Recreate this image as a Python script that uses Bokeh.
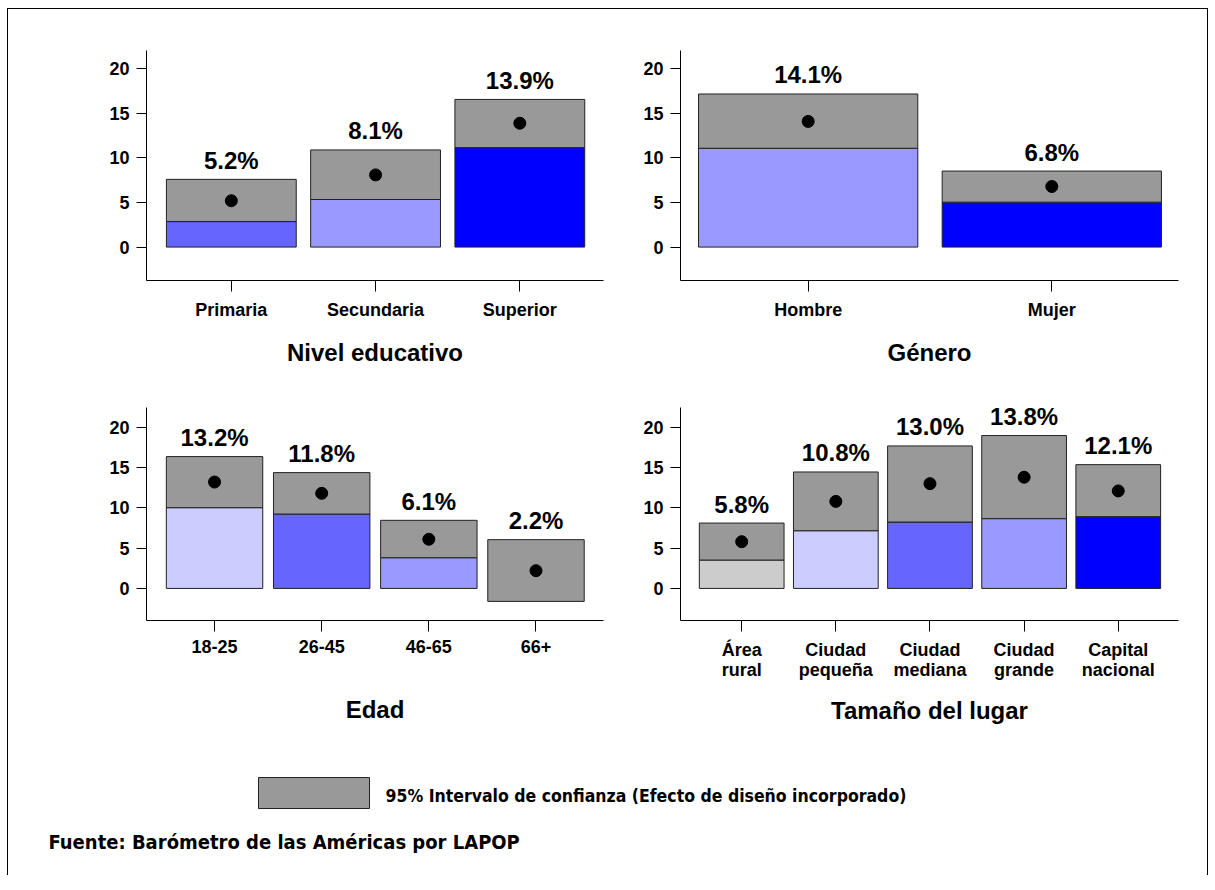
from bokeh.plotting import figure
from bokeh.layouts import column, row
from bokeh.models import (Range1d, FixedTicker, ColumnDataSource, Label, LabelSet,
                          BoxAnnotation)
from bokeh.embed import file_html
from bokeh.resources import INLINE
from bokeh.core.properties import value

FONT = "Liberation Sans"
NARROW = "Liberation Sans Narrow, DejaVu Sans Condensed, Liberation Sans"

# ---- data ----
educ_cats = ["Primaria", "Secundaria", "Superior"]
educ_mean = [5.2, 8.1, 13.9]
educ_low = [2.86, 5.34, 11.16]
educ_up = [7.6, 10.9, 16.57]
educ_colors = ["#6666FF", "#9999FF", "#0000FF"]

gen_cats = ["Hombre", "Mujer"]
gen_mean = [14.1, 6.8]
gen_low = [11.09, 5.04]
gen_up = [17.18, 8.53]
gen_colors = ["#9999FF", "#0000FF"]

edad_cats = ["18-25", "26-45", "46-65", "66+"]
edad_mean = [13.2, 11.8, 6.1, 2.2]
edad_low = [10.02, 9.23, 3.81, -1.61]
edad_up = [16.36, 14.37, 8.45, 6.05]
edad_colors = ["#CCCCFF", "#6666FF", "#9999FF", "#999999"]

lugar_cats = ["Área\nrural", "Ciudad\npequeña", "Ciudad\nmediana", "Ciudad\ngrande", "Capital\nnacional"]
lugar_mean = [5.8, 10.8, 13.0, 13.8, 12.1]
lugar_low = [3.52, 7.16, 8.24, 8.66, 8.90]
lugar_up = [8.11, 14.45, 17.68, 18.97, 15.36]
lugar_colors = ["#CCCCCC", "#CCCCFF", "#6666FF", "#9999FF", "#0000FF"]

y_ticks = [0, 5, 10, 15, 20]
ci_color = "#999999"
legend_text = "95% Intervalo de confianza (Efecto de diseño incorporado)"
source_text = "Fuente: Barómetro de las Américas por LAPOP"


def panel(cats, mean, low, up, colors, title, xr, yr, width, height,
          bl, br, bt, bb, title_standoff):
    n = len(cats)
    xs = list(range(1, n + 1))
    p = figure(width=width, height=height, x_range=Range1d(*xr), y_range=Range1d(*yr),
               output_backend="svg", toolbar_location=None,
               min_border_left=bl, min_border_right=br, min_border_top=bt, min_border_bottom=bb)
    p.outline_line_color = None
    p.grid.visible = False
    p.background_fill_color = "white"
    p.border_fill_color = "white"

    # colored bars from 0 to lower bound (only when positive)
    bar_x = [x for x, l in zip(xs, low) if l > 0]
    bar_top = [l for l in low if l > 0]
    bar_col = [c for c, l in zip(colors, low) if l > 0]
    p.vbar(x=bar_x, top=bar_top, bottom=0, width=0.9, fill_color=bar_col,
           line_color="#222222", line_width=1)
    # confidence interval boxes
    src = ColumnDataSource(dict(x=xs, low=low, up=up, mean=mean,
                                lbl=[f"{m:.1f}%" for m in mean]))
    p.vbar(x="x", top="up", bottom="low", width=0.9, source=src,
           fill_color=ci_color, line_color="#222222", line_width=1)
    p.scatter(x="x", y="mean", source=src, size=12, color="black")
    p.add_layout(LabelSet(x="x", y="up", text="lbl", source=src, text_font=value(FONT),
                          text_font_style="bold", text_font_size="24px", text_align="center",
                          text_baseline="middle", y_offset=19, text_color="black"))

    xa = p.xaxis[0]
    xa.ticker = FixedTicker(ticks=xs)
    xa.major_label_overrides = {x: c for x, c in zip(xs, cats)}
    ya = p.yaxis[0]
    ya.ticker = FixedTicker(ticks=y_ticks)
    for ax in (xa, ya):
        ax.axis_line_color = "black"
        ax.axis_line_width = 1
        ax.major_tick_line_color = "black"
        ax.major_tick_line_width = 1
        ax.major_tick_in = 0
        ax.minor_tick_line_color = None
        ax.major_label_text_font = FONT
        ax.major_label_text_font_style = "bold"
        ax.major_label_text_font_size = "18px"
        ax.major_label_text_color = "black"
    xa.major_label_text_line_height = 1.0
    xa.major_tick_out = 11
    ya.major_tick_out = 10
    xa.major_label_standoff = 8
    ya.major_label_standoff = 7
    xa.axis_label = title
    xa.axis_label_text_font = FONT
    xa.axis_label_text_font_style = "bold"
    xa.axis_label_text_font_size = "24px"
    xa.axis_label_text_color = "black"
    xa.axis_label_standoff = title_standoff
    return p


top_yr = (-3.75, 22.06)
bot_yr = (-3.98, 22.45)

p1 = panel(educ_cats, educ_mean, educ_low, educ_up, educ_colors, "Nivel educativo",
           (0.412, 3.58), top_yr, 632, 372, 138, 37, 41, 101, 16)
p2 = panel(gen_cats, gen_mean, gen_low, gen_up, gen_colors, "Género",
           (0.476, 2.52), top_yr, 567, 372, 34, 29, 41, 101, 16)
p3 = panel(edad_cats, edad_mean, edad_low, edad_up, edad_colors, "Edad",
           (0.365, 4.63), bot_yr, 632, 360, 138, 37, 26, 121, 40)
p4 = panel(lugar_cats, lugar_mean, lugar_low, lugar_up, lugar_colors, "Tamaño del lugar",
           (0.35, 5.64), bot_yr, 567, 360, 34, 29, 26, 121, 14)

W5, H5 = 1199, 134
p5 = figure(width=W5, height=H5, x_range=Range1d(0, W5), y_range=Range1d(H5, 0),
            output_backend="svg", toolbar_location=None, x_axis_type=None, y_axis_type=None,
            min_border=0)
p5.outline_line_color = None
p5.grid.visible = False
p5.add_layout(BoxAnnotation(left=250, right=361, top=36, bottom=67,
                            fill_color=ci_color, fill_alpha=1.0,
                            line_color="#222222", line_width=1, line_alpha=1.0))
p5.add_layout(Label(x=377, y=54, text=legend_text, text_font=NARROW,
                    text_font_style="bold", text_font_size="17.5px",
                    text_baseline="middle", text_align="left", text_color="black"))
p5.add_layout(Label(x=40, y=100, text=source_text, text_font=NARROW,
                    text_font_style="bold", text_font_size="20px",
                    text_baseline="middle", text_align="left", text_color="black"))

layout = column(row(p1, p2), row(p3, p4), p5, margin=(8, 0, 0, 7),
                styles={"border-left": "1px solid black", "border-top": "1px solid black",
                        "border-right": "1px solid black"})

open("out.html", "w").write(file_html(layout, INLINE))
